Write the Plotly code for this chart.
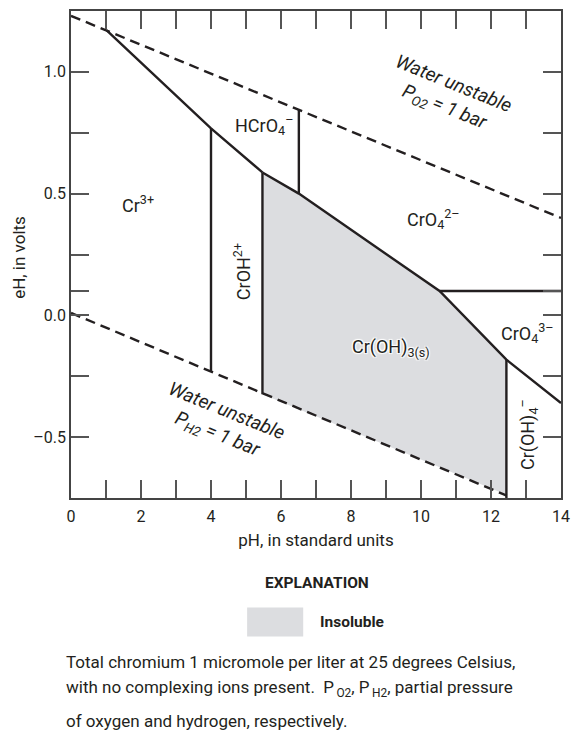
import plotly.graph_objects as go

FONT = "Roboto, Liberation Sans, sans-serif"
INK = "#231f20"
GRAY = "#dcdde0"

# ---- data (pH, eH in volts) ----
o2_ph = [0.0, 14.0]
o2_eh = [1.23, 0.40]
h2_ph = [0.0, 12.45]
h2_eh = [0.01, -0.74]

insol_ph = [5.47, 6.51, 10.53, 12.44, 12.44, 5.47]
insol_eh = [0.587, 0.50, 0.10, -0.182, -0.737, -0.324]

b1_ph = [1.02, 4.0, 5.47]
b1_eh = [1.17, 0.768, 0.587]
b2_ph = [4.0, 4.0]
b2_eh = [0.768, -0.232]
b3_ph = [5.47, 5.47]
b3_eh = [0.587, -0.324]
b4_ph = [5.47, 6.51, 10.53, 12.44, 14.0]
b4_eh = [0.587, 0.50, 0.10, -0.182, -0.36]
b5_ph = [6.51, 6.51]
b5_eh = [0.50, 0.845]
b6_ph = [10.53, 14.0]
b6_eh = [0.10, 0.10]
b7_ph = [12.44, 12.44]
b7_eh = [-0.182, -0.75]

x_ticks = list(range(0, 15))
x_labels = [str(v) if v % 2 == 0 else "" for v in x_ticks]
y_ticks = [-0.5, -0.25, 0.0, 0.1, 0.25, 0.5, 0.75, 1.0]
y_labels = ["\u20130.5", "", "0.0", "", "", "0.5", "", "1.0"]

species = ["Cr<sup>3+</sup>", "HCrO<sub>4</sub><sup>\u2013</sup>", "CrO<sub>4</sub><sup>2\u2013</sup>",
           "CrO<sub>4</sub><sup>3\u2013</sup>"]
species_ph = [1.9, 5.5, 10.35, 13.05]
species_eh = [0.457, 0.78, 0.395, -0.071]

solid_label = "Cr(OH)<sub>3(s)</sub>"
solid_ph = 9.15
solid_eh = -0.133

vspecies = ["CrOH<sup>2+</sup>", "Cr(OH)<sub>4</sub><sup>\u2013</sup>"]
vspecies_ph = [4.89, 13.04]
vspecies_eh = [0.178, -0.49]

fig = go.Figure()
fig.add_trace(go.Scatter(x=insol_ph, y=insol_eh, fill="toself", fillcolor=GRAY,
                         mode="none", hoverinfo="skip", showlegend=False))
for xs, ys in [(b1_ph, b1_eh), (b2_ph, b2_eh), (b3_ph, b3_eh), (b4_ph, b4_eh),
               (b5_ph, b5_eh), (b6_ph, b6_eh), (b7_ph, b7_eh)]:
    fig.add_trace(go.Scatter(x=xs, y=ys, mode="lines", line=dict(color=INK, width=2.4),
                             showlegend=False, hoverinfo="skip"))
for xs, ys in [(o2_ph, o2_eh), (h2_ph, h2_eh)]:
    fig.add_trace(go.Scatter(x=xs, y=ys, mode="lines",
                             line=dict(color=INK, width=2.4, dash="10px,6px"),
                             showlegend=False, hoverinfo="skip"))

ann = []
for t, x, y in zip(species, species_ph, species_eh):
    ann.append(dict(x=x, y=y, text=t, showarrow=False,
                    font=dict(family=FONT, size=18, color=INK)))
ann.append(dict(x=solid_ph, y=solid_eh, text=solid_label, showarrow=False,
                font=dict(family=FONT, size=18, color=INK,
                          shadow="1px 1px 1px white, -1px -1px 1px white, 1px -1px 1px white, -1px 1px 1px white")))
for t, x, y in zip(vspecies, vspecies_ph, vspecies_eh):
    ann.append(dict(x=x, y=y, text=t, showarrow=False, textangle=-90,
                    font=dict(family=FONT, size=18, color=INK)))

ann.append(dict(x=10.8, y=0.90, text="Water unstable<br>P<sub>O2</sub> = 1 bar",
                showarrow=False, textangle=22,
                font=dict(family=FONT, size=19, color=INK, style="italic")))
ann.append(dict(x=4.30, y=-0.443, text="Water unstable<br>P<sub>H2</sub> = 1 bar",
                showarrow=False, textangle=22,
                font=dict(family=FONT, size=19, color=INK, style="italic")))

# explanation and caption (paper coordinates)
def px(x):
    return (x - 71) / 498.0

def py(y):
    return (498 - y) / 489.0

ann.append(dict(xref="paper", yref="paper", x=px(18), y=py(256), xanchor="center",
                yanchor="middle", text="eH, in volts", textangle=-90, showarrow=False,
                font=dict(family=FONT, size=17, color=INK)))
ann.append(dict(xref="paper", yref="paper", x=px(321), y=py(583), xanchor="center",
                yanchor="middle", text="<b>EXPLANATION</b>",
                showarrow=False, font=dict(family=FONT, size=15.5, color=INK)))
ann.append(dict(xref="paper", yref="paper", x=px(322), y=py(623), xanchor="left",
                yanchor="middle", text="<b>Insoluble</b>", showarrow=False,
                font=dict(family=FONT, size=15.5, color=INK)))
caption = ["Total chromium 1 micromole per liter at 25 degrees Celsius,",
           "with no complexing ions present.\u00a0\u00a0P<sub>\u2009O2</sub>,\u00a0P<sub>\u2009H2</sub>,\u00a0partial pressure",
           "of oxygen and hydrogen, respectively."]
cap_y = [663, 689, 722]
for t, yy in zip(caption, cap_y):
    ann.append(dict(xref="paper", yref="paper", x=px(64), y=py(yy), xanchor="left",
                    yanchor="middle", text=t, showarrow=False,
                    font=dict(family=FONT, size=17, color=INK)))

shapes = [dict(type="rect", xref="paper", yref="paper", x0=px(250), x1=px(307),
               y0=py(637), y1=py(608), fillcolor=GRAY, line=dict(width=0))]

fig.update_layout(
    width=579, height=735,
    margin=dict(l=71, r=10, t=9, b=237),
    paper_bgcolor="white", plot_bgcolor="white",
    font=dict(family=FONT, size=16, color=INK),
    annotations=ann, shapes=shapes,
    xaxis=dict(range=[0, 14], tickvals=x_ticks, ticktext=x_labels, ticks="inside",
               ticklen=18, tickwidth=1.5, tickcolor="#555", showgrid=False, zeroline=False,
               showline=True, linecolor="#444", linewidth=1.5, mirror="ticks",
               tickfont=dict(size=16), ticklabelstandoff=3,
               title=dict(text="pH, in standard units", font=dict(size=17), standoff=9)),
    yaxis=dict(range=[-0.75, 1.25], tickvals=y_ticks, ticktext=y_labels, ticks="inside",
               ticklen=18, tickwidth=1.5, tickcolor="#555", showgrid=False, zeroline=False,
               showline=True, linecolor="#444", linewidth=1.5, mirror="ticks",
               tickfont=dict(size=16)),
)

fig.write_html("out.html", config={"displayModeBar": False},
               post_script="document.body.style.margin='0';document.body.style.overflow='hidden';")
